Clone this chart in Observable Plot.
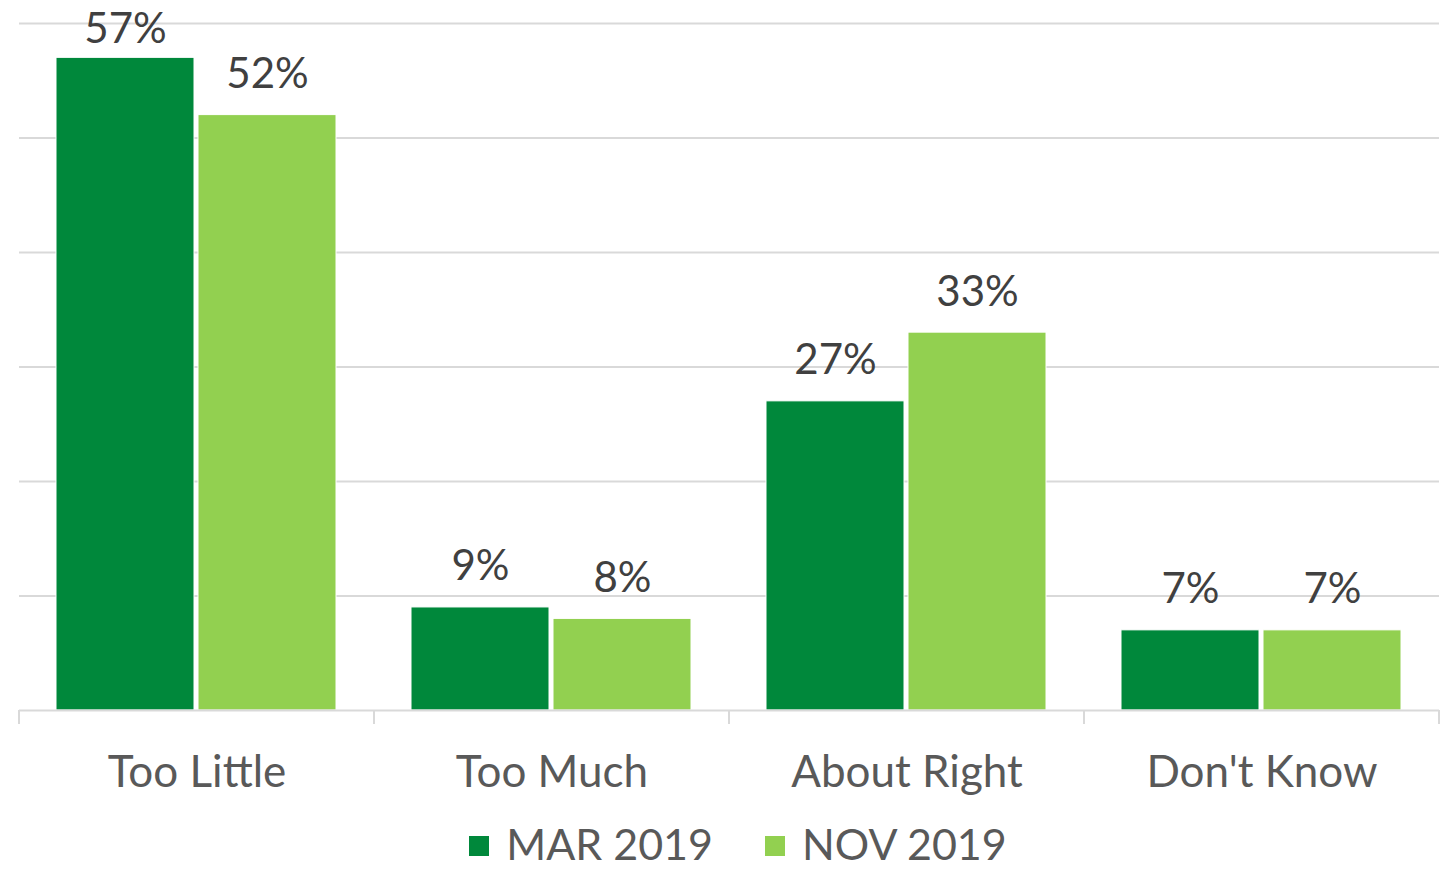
<!DOCTYPE html>
<html><head><meta charset="utf-8">
<script src="https://cdn.jsdelivr.net/npm/d3@7"></script>
<script src="https://cdn.jsdelivr.net/npm/@observablehq/plot@0.6"></script>
<style>
body{margin:0;background:#fff;font-family:Lato, sans-serif;overflow:hidden;}
#chart svg{display:block;}
#legend{display:flex;justify-content:center;align-items:center;gap:52px;font-size:43px;line-height:1;color:#595959;padding-top:12px;padding-left:26px;}
.item{display:flex;align-items:center;gap:17px;}
.sw{width:20px;height:20px;display:inline-block;margin-top:5px;}
</style></head><body>
<div id="chart"></div>
<div id="legend"></div>
<script>
const categories = ["Too Little", "Too Much", "About Right", "Don't Know"];
const seriesNames = ["MAR 2019", "NOV 2019"];
const mar2019 = [57, 9, 27, 7];
const nov2019 = [52, 8, 33, 7];
const seriesColors = ["#00883b", "#92d050"];
const yTicks = [10, 20, 30, 40, 50, 60];
const yMax = 60;

const data = categories.flatMap((c, i) => [
  {category: c, series: seriesNames[0], value: mar2019[i]},
  {category: c, series: seriesNames[1], value: nov2019[i]}
]);

function boundaryTicks(index, scales, values, dimensions) {
  const g = d3.create("svg:g");
  let a, b;
  try { [a, b] = scales.x.range(); }
  catch (e) { a = dimensions.marginLeft; b = dimensions.width - dimensions.marginRight; }
  const y0 = scales.y(0);
  for (const xx of [a, b]) {
    g.append("line").attr("x1", xx).attr("x2", xx).attr("y1", y0).attr("y2", y0 + 14)
      .attr("stroke", "#d9d9d9").attr("stroke-width", 2);
  }
  return g.node();
}

const chart = Plot.plot({
  width: 1450, height: 810,
  marginTop: 23, marginBottom: 100, marginLeft: 18, marginRight: 10,
  style: {fontFamily: "Lato, sans-serif", background: "white", color: "#595959"},
  fx: {domain: categories, padding: 0, label: null},
  x: {domain: seriesNames, paddingInner: 0.028, paddingOuter: 0.257, axis: null},
  y: {domain: [0, yMax], axis: null},
  color: {domain: seriesNames, range: seriesColors},
  marks: [
    Plot.ruleY(yTicks, {stroke: "#d9d9d9", strokeWidth: 2}),
    Plot.barY(data, {fx: "category", x: "series", y: "value", fill: "series", stroke: "white", strokeWidth: 1}),
    Plot.ruleY([0], {stroke: "#d9d9d9", strokeWidth: 2}),
    boundaryTicks,
    Plot.text(data, {
      fx: "category", x: "series",
      y: d => Math.min(d.value, yMax - 4.1),
      text: d => d.value + "%",
      lineAnchor: "bottom", dy: -27, fontSize: 42, fill: "#404040"
    }),
    Plot.axisFx({anchor: "bottom", tickSize: 0, tickPadding: 45, fontSize: 44, label: null})
  ]
});
document.getElementById("chart").appendChild(chart);

const legend = document.getElementById("legend");
seriesNames.forEach((name, i) => {
  const item = document.createElement("div");
  item.className = "item";
  const sw = document.createElement("span");
  sw.className = "sw";
  sw.style.background = seriesColors[i];
  const label = document.createElement("span");
  label.textContent = name;
  item.appendChild(sw);
  item.appendChild(label);
  legend.appendChild(item);
});
</script>
</body></html>
